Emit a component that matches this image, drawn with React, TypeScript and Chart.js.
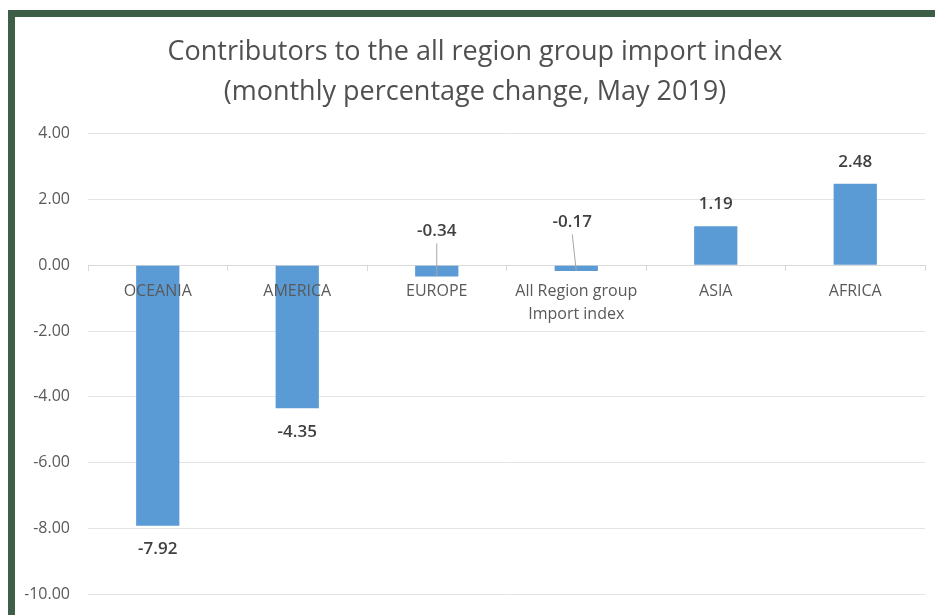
import React, { useEffect, useRef } from "react";
import { Chart, registerables } from "chart.js";

Chart.register(...registerables);

const categories: (string | string[])[] = [
  "OCEANIA",
  "AMERICA",
  "EUROPE",
  ["All Region group", "Import index"],
  "ASIA",
  "AFRICA",
];
const values: number[] = [-7.92, -4.35, -0.34, -0.17, 1.19, 2.48];
const yTicks: number[] = [-10, -8, -6, -4, -2, 0, 2, 4];
const titleLines: string[] = [
  "Contributors to the all region group import index",
  "(monthly percentage change, May 2019)",
];

const FONT = '"Open Sans", Lato, sans-serif';

const dataLabelPlugin = {
  id: "dataLabelPlugin",
  afterDatasetsDraw(chart: any, _args: any, opts: any) {
    const ctx = chart.ctx;
    const meta = chart.getDatasetMeta(0);
    const yScale = chart.scales.y;
    const zeroY = yScale.getPixelForValue(0);
    const lifts: number[] = opts.lifts || [];
    const shifts: number[] = opts.shifts || [];
    ctx.save();
    ctx.font = `600 17px ${FONT}`;
    ctx.fillStyle = "#404040";
    ctx.textAlign = "center";
    ctx.textBaseline = "middle";
    meta.data.forEach((bar: any, i: number) => {
      const v = values[i];
      const txt = v.toFixed(2);
      const lift = lifts[i] || 0;
      if (lift > 0) {
        const tx = bar.x + (shifts[i] || 0);
        const ty = zeroY - lift;
        ctx.fillText(txt, tx, ty);
        ctx.strokeStyle = "#a6a6a6";
        ctx.lineWidth = 1;
        ctx.beginPath();
        ctx.moveTo(tx, ty + 12);
        ctx.lineTo(bar.x, bar.y);
        ctx.stroke();
      } else if (v >= 0) {
        ctx.fillText(txt, bar.x, bar.y - 22);
      } else {
        ctx.fillText(txt, bar.x, bar.y + 24);
      }
    });
    ctx.restore();
  },
};

export default function App() {
  const ref = useRef<HTMLCanvasElement | null>(null);
  useEffect(() => {
    if (!ref.current) return;
    const chart = new Chart(ref.current, {
      type: "bar",
      data: {
        labels: categories,
        datasets: [
          {
            data: values,
            backgroundColor: "#5B9BD5",
            borderWidth: 0,
            categoryPercentage: 1,
            barPercentage: 0.31,
          },
        ],
      },
      plugins: [dataLabelPlugin],
      options: {
        animation: false,
        responsive: false,
        layout: { padding: { left: 25, right: 10, top: 0, bottom: 21 } },
        plugins: {
          legend: { display: false },
          tooltip: { enabled: false },
          title: {
            display: true,
            text: titleLines,
            color: "#505050",
            font: { family: FONT, size: 27, weight: "normal", lineHeight: 1.48 },
            padding: { top: 32, bottom: 22 },
          },
          dataLabelPlugin: { lifts: [0, 0, 34, 43, 0, 0], shifts: [0, 0, 0, -4, 0, 0] },
        } as any,
        scales: {
          x: {
            type: "category",
            position: { y: 0 } as any,
            offset: true,
            grid: {
              display: true,
              drawOnChartArea: false,
              tickLength: 5,
              color: "#d9d9d9",
              offset: true,
            },
            border: { display: true, color: "#d9d9d9" },
            ticks: {
              z: 1,
              padding: 10,
              color: "#595959",
              font: { family: FONT, size: 16, lineHeight: 1.4 },
              maxRotation: 0,
              autoSkip: false,
            },
          },
          y: {
            min: -10,
            max: 4,
            afterFit(scale: any) {
              scale.width = 63;
              scale.paddingTop = 0;
              scale.paddingBottom = 0;
            },
            afterBuildTicks(scale: any) {
              scale.ticks = yTicks.map((v) => ({ value: v }));
            },
            grid: { color: "#e3e3e3", drawTicks: false },
            border: { display: false },
            ticks: {
              padding: 18,
              color: "#595959",
              font: { family: FONT, size: 16 },
              callback: (v: any) => Number(v).toFixed(2),
            },
          },
        },
      },
    });
    return () => chart.destroy();
  }, []);
  return (
    <div
      style={{
        position: "fixed",
        left: 0,
        top: 0,
        width: 935,
        height: 615,
        background: "#ffffff",
        overflow: "hidden",
      }}
    >
      <div
        style={{
          position: "absolute",
          left: 8,
          top: 10,
          width: 1000,
          height: 700,
          borderLeft: "7px solid #3e5e47",
          borderTop: "7px solid #3e5e47",
        }}
      />
      <canvas
        ref={ref}
        width={935}
        height={615}
        style={{ position: "absolute", left: 0, top: 0, width: 935, height: 615 }}
      />
    </div>
  );
}
